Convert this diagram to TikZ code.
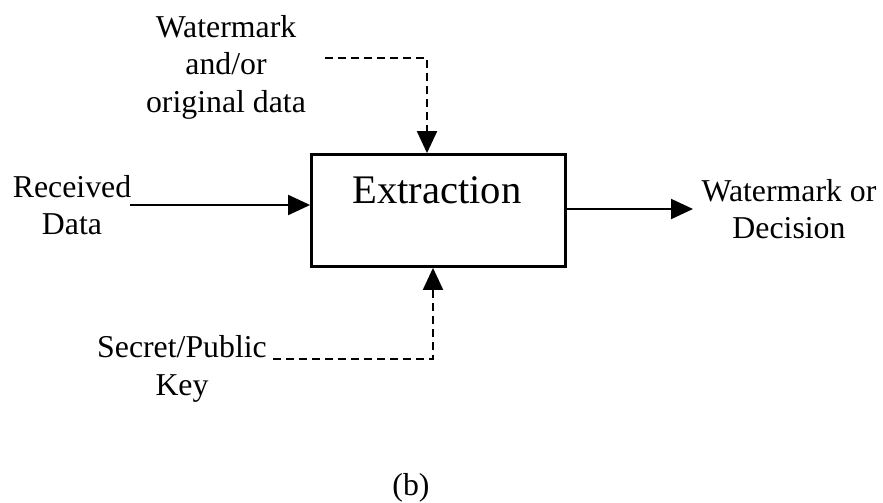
\documentclass[tikz,border=0pt]{standalone}
\usepackage{fontspec}
\setmainfont{Liberation Serif}
\usetikzlibrary{arrows.meta}
\begin{document}
\begin{tikzpicture}[x=0.5pt,y=-0.5pt,
  lbl/.style={inner sep=0pt,align=center,font=\fontsize{15.9pt}{18.75pt}\selectfont},
  blk/.style={draw,line width=1.4pt,minimum width=127pt,minimum height=56pt,inner sep=0pt},
  conn/.style={line width=1pt,-{Triangle[length=11pt,width=10pt]}},
  dconn/.style={conn,dash pattern=on 4pt off 2.5pt}]
\useasboundingbox (0,0) rectangle (883,503);
\node[blk] (box) at (438.5,210.5) {};
\node[lbl,anchor=base,font=\fontsize{20.3pt}{24pt}\selectfont] (ext) at (437,203) {Extraction};
\node[lbl] (wm) at (226,67) {Watermark\\and/or\\original data};
\node[lbl] (recv) at (72,205) {Received\\Data};
\node[lbl] (key) at (182,369) {Secret/Public\\Key};
\node[lbl] (out) at (789,209) {Watermark or\\Decision};
\node[lbl,anchor=base] (cap) at (411,495) {(b)};
\coordinate (r0) at (130,205);
\coordinate (w0) at (325,58);
\coordinate (w1) at (427,58);
\coordinate (k0) at (273,359);
\coordinate (k1) at (433,359);
\coordinate (o0) at (693,209);
\draw[conn] (r0) -- (r0 -| box.west);
\draw[dconn] (w0) -- (w1) -- (w1 |- box.north);
\draw[dconn] (k0) -- (k1) -- (k1 |- box.south);
\draw[conn] (o0 -| box.east) -- (o0);
\end{tikzpicture}
\end{document}
